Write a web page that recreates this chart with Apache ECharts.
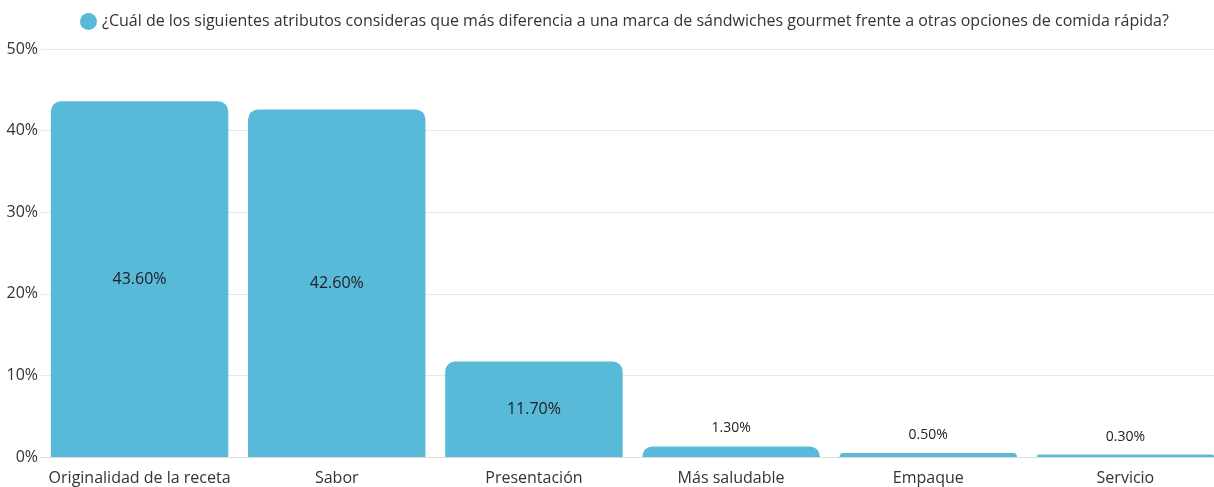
<!DOCTYPE html>
<html>
<head>
<meta charset="utf-8">
<script src="https://cdn.jsdelivr.net/npm/echarts@6/dist/echarts.min.js"></script>
<style>
  html, body { margin: 0; padding: 0; background: #fff; overflow: hidden; }
  #chart { width: 1224px; height: 487px; }
</style>
</head>
<body>
<div id="chart"></div>
<script>
// Survey question and answer categories
const seriesName = '¿Cuál de los siguientes atributos consideras que más diferencia a una marca de sándwiches gourmet frente a otras opciones de comida rápida?';
const categories = ['Originalidad de la receta', 'Sabor', 'Presentación', 'Más saludable', 'Empaque', 'Servicio'];
// Share of respondents (%)
const values = [43.6, 42.6, 11.7, 1.3, 0.5, 0.3];
// Y axis ticks (%)
const yTicks = [0, 10, 20, 30, 40, 50];

const barColor = '#58b9d9';
const font = 'Open Sans';

const chart = echarts.init(document.getElementById('chart'));

// Tall bars carry their value inside, short ones just above
const data = values.map(v => ({
  value: v,
  label: v >= 5
    ? { position: 'inside', fontSize: 16 }
    : { position: 'top', distance: 11, fontSize: 14 }
}));

chart.setOption({
  animation: false,
  textStyle: { fontFamily: font },
  legend: {
    left: 75,
    top: 8,
    icon: 'circle',
    itemWidth: 17,
    itemHeight: 17,
    itemGap: 8,
    textStyle: { fontFamily: font, fontSize: 16, color: '#333' },
    data: [seriesName]
  },
  grid: {
    left: 41,
    top: 49,
    bottom: 30,
    right: 0
  },
  xAxis: {
    type: 'category',
    data: categories,
    axisTick: { show: false },
    axisLine: { show: true, lineStyle: { color: '#dcdcdc' } },
    axisLabel: { fontFamily: font, fontSize: 16, color: '#333', margin: 13, interval: 0 }
  },
  yAxis: {
    type: 'value',
    min: yTicks[0],
    max: yTicks[yTicks.length - 1],
    interval: yTicks[1] - yTicks[0],
    axisLabel: { formatter: '{value}%', fontFamily: font, fontSize: 16, color: '#333', margin: 3 },
    axisLine: { show: false },
    axisTick: { show: false },
    splitLine: { lineStyle: { color: '#e8e8e8' } }
  },
  series: [{
    name: seriesName,
    type: 'bar',
    data: data,
    barCategoryGap: '10%',
    itemStyle: { color: barColor, borderRadius: [10, 10, 0, 0] },
    label: {
      show: true,
      formatter: p => p.value.toFixed(2) + '%',
      fontFamily: font,
      color: '#222'
    }
  }]
});
</script>
</body>
</html>
